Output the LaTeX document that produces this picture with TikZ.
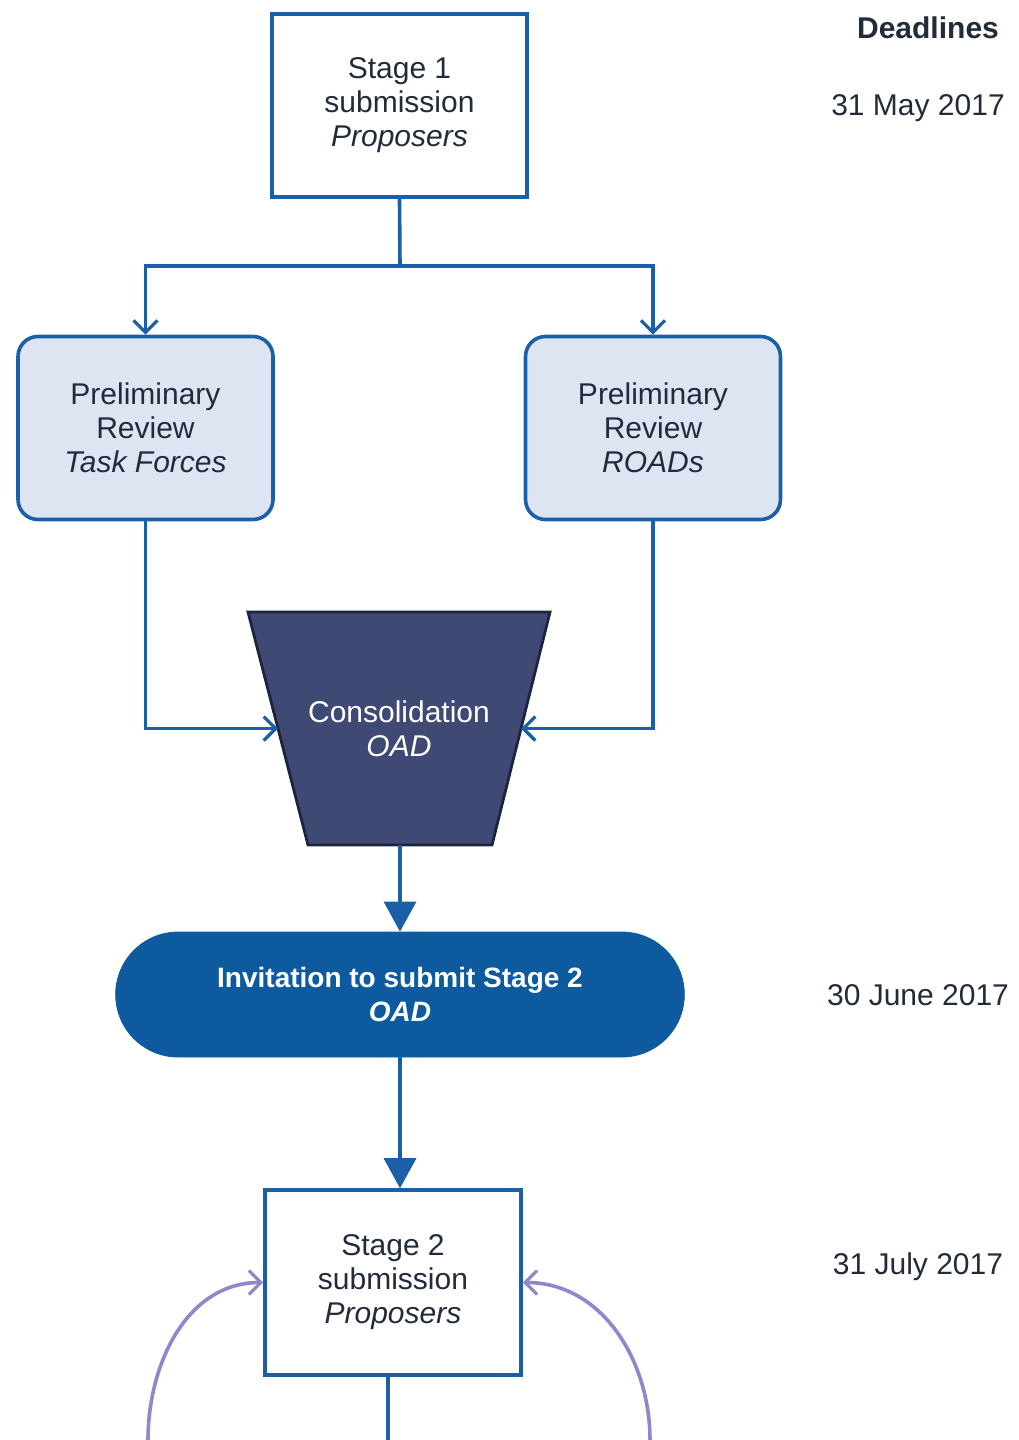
\documentclass[tikz,border=0pt]{standalone}
\usepackage{fontspec}
\setmainfont{Liberation Sans}
\usetikzlibrary{arrows.meta,shapes.misc}

\definecolor{lineblue}{HTML}{1B5FA6}
\definecolor{paleblue}{HTML}{DCE5F1}
\definecolor{navy}{HTML}{3E4A74}
\definecolor{navyedge}{HTML}{1C2440}
\definecolor{pillblue}{HTML}{0D5A9F}
\definecolor{lilac}{HTML}{9484CC}
\definecolor{inktext}{HTML}{222B3A}

\tikzset{
    every node/.style={font=\fontsize{15}{17}\selectfont, text=inktext},
    flow/.style={draw=lineblue, line width=1.8pt},
    stagebox/.style={flow, fill=white, align=center,
        minimum width=127.5pt, minimum height=91.5pt},
    reviewbox/.style={stagebox, fill=paleblue, rounded corners=10pt},
    barb/.style={flow, -{Straight Barb[length=6pt,width=12pt,line width=1.6pt]}},
    solidtip/.style={flow, -{Triangle[length=15pt,width=16pt]}},
    loopback/.style={draw=lilac, line width=1.8pt,
        -{Straight Barb[length=6pt,width=12pt,line width=1.6pt]}},
}

\begin{document}
\begin{tikzpicture}[x=0.5pt,y=-0.5pt]
    \useasboundingbox (0,0) rectangle (1018,1440);

    % main column
    \node[stagebox] (stage1) at (399.5,105.5)
        {Stage 1\\submission\\\textit{Proposers}};
    \node[reviewbox] (revtf) at (145.5,428)
        {Preliminary\\Review\\\textit{Task Forces}};
    \node[reviewbox] (revroad) at (653,428)
        {Preliminary\\Review\\\textit{ROADs}};

    % consolidation funnel
    \filldraw[fill=navy, draw=navyedge, line width=1.4pt]
        (248,612) -- (550,612) -- (492,845) -- (308,845) -- cycle;
    \coordinate (consolw) at (278,728.5);
    \coordinate (console) at (521,728.5);
    \coordinate (consols) at (400,845);
    \node[align=center, text=white] (consol) at (399,728.5)
        {Consolidation\\\textit{OAD}};

    \node[rounded rectangle, fill=pillblue, draw=pillblue,
        minimum width=291pt, minimum height=62.5pt, align=center,
        text=white, font=\fontsize{14}{17}\selectfont\bfseries] (invite) at (400,994.5)
        {Invitation to submit Stage 2\\\textit{OAD}};
    \node[stagebox, minimum width=128pt, minimum height=92.5pt] (stage2) at (393,1282.5)
        {Stage 2\\submission\\\textit{Proposers}};

    % deadlines
    \node[font=\fontsize{15}{17}\selectfont\bfseries] (dhead) at (928,28) {Deadlines};
    \node (dmay) at (918,108) {31 May 2017};
    \node (djune) at (918,995) {30 June 2017};
    \node (djuly) at (918,1267) {31 July 2017};

    % connectors
    \coordinate (split) at (400,266);
    \draw[flow] (stage1.south) -- (split);
    \draw[barb] (split) -| (revtf.north);
    \draw[barb] (split) -| (revroad.north);
    \draw[barb] (revtf.south) |- (consolw);
    \draw[barb] (revroad.south) |- (console);
    \draw[solidtip] (consols) -- (invite.north);
    \draw[solidtip] (invite.south) -- (invite.south |- stage2.north);

    \coordinate (out) at (388,1440);
    \draw[flow] (stage2.south -| out) -- (out);

    \coordinate (backl) at (148,1440);
    \coordinate (backr) at (650,1440);
    \draw[loopback] (backl) to[out=90,in=180] (stage2.west);
    \draw[loopback] (backr) to[out=90,in=0] (stage2.east);
\end{tikzpicture}
\end{document}
